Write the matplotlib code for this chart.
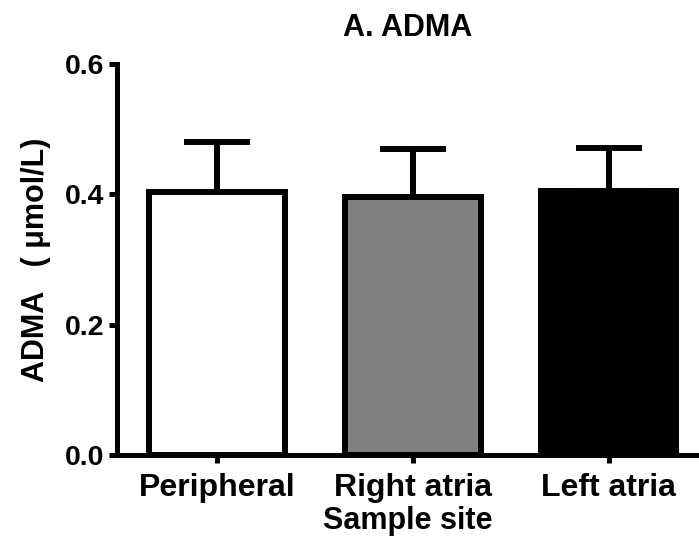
"""
 Title:         ADMA bar chart
 Description:   Recreates the ADMA by sample site bar chart
"""

# Libraries
import matplotlib
matplotlib.use("Agg")
import matplotlib.pyplot as plt

# Data
sites  = ["Peripheral", "Right atria", "Left atria"]
means  = [0.403, 0.396, 0.405]
errors = [0.077, 0.073, 0.066]
fills  = ["white", "#808080", "black"]

# Constants
FONT     = ["Liberation Sans", "DejaVu Sans"]
BAR_LW   = 4.3
SPINE_LW = 3.6

plt.rcParams["font.family"] = FONT
plt.rcParams["font.weight"] = "bold"

# Prepare the figure
fig = plt.figure(figsize=(6.99, 5.52), dpi=100)
ax = fig.add_axes([117/699, 1 - 455/552, 1 - 117/699, (455 - 64)/552])

# Bars and upper error bars
x = list(range(len(sites)))
ax.bar(x, means, width=0.69, color=fills, edgecolor="black", linewidth=BAR_LW, zorder=2)
ax.errorbar(x, means, yerr=[[0]*len(errors), errors], fmt="none", ecolor="black",
            elinewidth=BAR_LW, capsize=23.5, capthick=BAR_LW, zorder=1)

# Axes styling
ax.set_xlim(-0.51, 2.46)
ax.set_ylim(0, 0.6)
ax.set_yticks([0.0, 0.2, 0.4, 0.6])
ax.set_yticklabels(["0.0", "0.2", "0.4", "0.6"])
ax.set_xticks(x)
ax.set_xticklabels(sites)
for side in ["top", "right"]:
    ax.spines[side].set_visible(False)
for side in ["left", "bottom"]:
    ax.spines[side].set_linewidth(SPINE_LW)
ax.tick_params(axis="y", width=SPINE_LW, length=6, labelsize=20.5, pad=3)
ax.tick_params(axis="x", width=SPINE_LW, length=6, labelsize=23, pad=7)

ax.set_title("A. ADMA", fontsize=22, fontweight="bold", pad=20)
ax.set_xlabel("Sample site", fontsize=22, fontweight="bold", labelpad=2)
ax.set_ylabel("ADMA   ( \u03bcmol/L)", fontsize=22, fontweight="bold", labelpad=10)

fig.savefig("out.png", dpi=100)
